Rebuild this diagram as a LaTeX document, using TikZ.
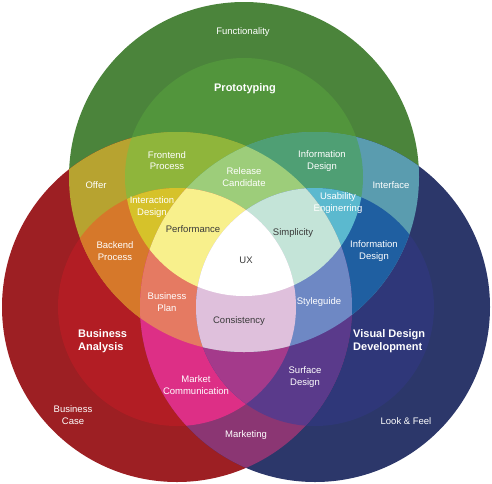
\documentclass[tikz,border=0pt]{standalone}
\usepackage{fontspec}
\setmainfont{Liberation Sans}
% circle colours: single regions
\definecolor{cGa}{HTML}{4B843B}% G ring
\definecolor{cGb}{HTML}{52953C}% g inner
\definecolor{cRa}{HTML}{9D1F23}
\definecolor{cRb}{HTML}{B21D24}
\definecolor{cBa}{HTML}{2C376A}
\definecolor{cBb}{HTML}{2F3779}
% pairs
\definecolor{cOffer}{HTML}{B7A330}
\definecolor{cFront}{HTML}{8FB53B}
\definecolor{cBack}{HTML}{D6782A}
\definecolor{cInter}{HTML}{D6C22A}
\definecolor{cIface}{HTML}{5A9CAF}
\definecolor{cInfoT}{HTML}{4F9F74}
\definecolor{cInfoR}{HTML}{1F5FA1}
\definecolor{cUsab}{HTML}{5BB9CF}
\definecolor{cMarket}{HTML}{8B3673}
\definecolor{cMComm}{HTML}{DD2F86}
\definecolor{cSurf}{HTML}{5A3A8B}
\definecolor{cRBin}{HTML}{A43A8B}
% triples
\definecolor{cRel}{HTML}{9DCD7A}
\definecolor{cPerf}{HTML}{F8F08C}
\definecolor{cSimp}{HTML}{C4E4D8}
\definecolor{cUX}{HTML}{FFFFFF}
\definecolor{cBPlan}{HTML}{E57A62}
\definecolor{cStyle}{HTML}{6E88C4}
\definecolor{cCons}{HTML}{DFC0DC}
\definecolor{txtdark}{HTML}{3A3A3A}
\newcommand\clipGo{\clip (244,177) circle[radius=175];}
\newcommand\clipGi{\clip (244,177) circle[radius=119];}
\newcommand\clipRo{\clip (177,307) circle[radius=175];}
\newcommand\clipRi{\clip (177,307) circle[radius=119];}
\newcommand\clipBo{\clip (315,307) circle[radius=175];}
\newcommand\clipBi{\clip (315,307) circle[radius=119];}
\newcommand\paintreg[2]{\begin{scope}#2\fill[#1] (0,0) rectangle (492,483);\end{scope}}
\begin{document}
\begin{tikzpicture}[x=1pt,y=-1pt,
  lbl/.style={align=center,inner sep=0pt,text=white,font=\fontsize{9.5}{11.5}\selectfont},
  dark/.style={lbl,text=txtdark},
  big/.style={align=left,inner sep=0pt,text=white,font=\bfseries\fontsize{11}{12.7}\selectfont}]
\useasboundingbox (0,0) rectangle (492,483);
% level sum 1
\paintreg{cGa}{\clipGo}
\paintreg{cRa}{\clipRo}
\paintreg{cBa}{\clipBo}
% level sum 2
\paintreg{cGb}{\clipGi}
\paintreg{cRb}{\clipRi}
\paintreg{cBb}{\clipBi}
\paintreg{cOffer}{\clipGo\clipRo}
\paintreg{cIface}{\clipGo\clipBo}
\paintreg{cMarket}{\clipRo\clipBo}
% level sum 3
\paintreg{cFront}{\clipGi\clipRo}
\paintreg{cInfoT}{\clipGi\clipBo}
\paintreg{cBack}{\clipGo\clipRi}
\paintreg{cMComm}{\clipRi\clipBo}
\paintreg{cInfoR}{\clipGo\clipBi}
\paintreg{cSurf}{\clipRo\clipBi}
% level sum 4
\paintreg{cInter}{\clipGi\clipRi}
\paintreg{cUsab}{\clipGi\clipBi}
\paintreg{cRBin}{\clipRi\clipBi}
\paintreg{cRel}{\clipGi\clipRo\clipBo}
\paintreg{cBPlan}{\clipGo\clipRi\clipBo}
\paintreg{cStyle}{\clipGo\clipRo\clipBi}
% level sum 5
\paintreg{cPerf}{\clipGi\clipRi\clipBo}
\paintreg{cSimp}{\clipGi\clipRo\clipBi}
\paintreg{cCons}{\clipGo\clipRi\clipBi}
% level sum 6
\paintreg{cUX}{\clipGi\clipRi\clipBi}
% labels
\node[lbl] (functionality) at (243,32) {Functionality};
\node[big,align=center] (prototyping) at (245,89) {Prototyping};
\node[lbl] (frontend) at (167,160.5) {Frontend\\Process};
\node[lbl] (infotop) at (322,161) {Information\\Design};
\node[lbl] (release) at (244,177) {Release\\Candidate};
\node[lbl] (offer) at (96,185) {Offer};
\node[lbl] (interface) at (391,185) {Interface};
\node[lbl] (interaction) at (152,207) {Interaction\\Design};
\node[lbl] (usability) at (338,203) {Usability\\Enginerring};
\node[dark] (performance) at (193,229) {Performance};
\node[dark] (simplicity) at (293,233) {Simplicity};
\node[lbl] (backend) at (115,251) {Backend\\Process};
\node[lbl] (inforight) at (374,251) {Information\\Design};
\node[dark] (ux) at (246,260) {UX};
\node[lbl] (bplan) at (167,302) {Business\\Plan};
\node[lbl] (styleguide) at (319,302) {Styleguide};
\node[dark] (consistency) at (239,321) {Consistency};
\node[big,anchor=west] (banalysis) at (78,341) {Business\\Analysis};
\node[big,anchor=west] (visual) at (353,341) {Visual Design\\Development};
\node[lbl] (mcomm) at (196,385) {Market\\Communication};
\node[lbl] (surface) at (305,377) {Surface\\Design};
\node[lbl] (bcase) at (73,415) {Business\\Case};
\node[lbl] (lookfeel) at (406,421) {Look \& Feel};
\node[lbl] (marketing) at (246,435) {Marketing};
\end{tikzpicture}
\end{document}
